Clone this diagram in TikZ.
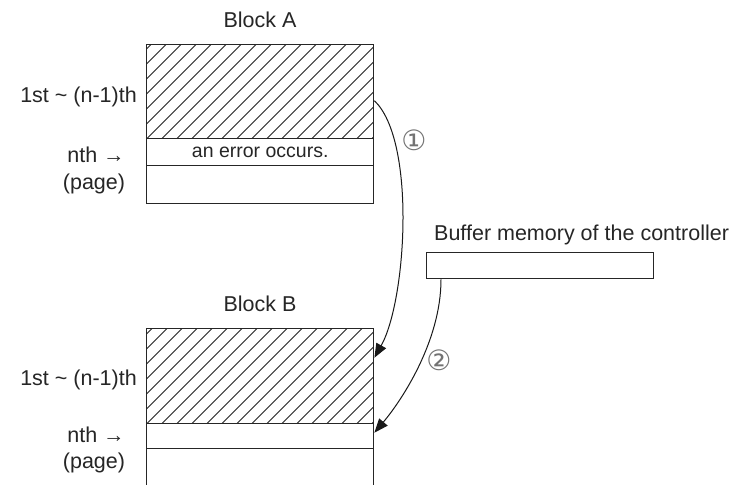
\documentclass[tikz,border=0pt]{standalone}
\usepackage{fontspec}
\setmainfont{Liberation Sans}
\newfontfamily\symfont{DejaVu Sans}
\usetikzlibrary{arrows.meta,calc}

\begin{document}
\begin{tikzpicture}[x=1pt,y=-1pt,
  cell/.style={draw=black!85,line width=1.4pt,minimum width=227pt,inner sep=0pt,anchor=north west},
  hatchline/.style={line width=0.9pt,black!85},
  hatched/.style={path picture={
      \foreach \k in {-8,...,16}{
        \draw[hatchline] ([xshift={\k*15pt}]path picture bounding box.south west) -- ++(130,-130);
      }}},
  lbl/.style={font=\fontsize{21.5}{27}\selectfont,text=black!85,inner sep=0pt},
  rowtext/.style={font=\fontsize{19.5}{24}\selectfont,text=black!85},
  flow/.style={line width=1pt,black!90,-{Triangle[length=14pt,width=11pt]}},
  stepno/.style={font=\symfont\fontsize{28}{28}\selectfont,text=black!55,inner sep=0pt}]

  \useasboundingbox[fill=white] (0,0) rectangle (729,485);

  % Block A: written pages, the failing page, remaining page
  \node[cell,hatched,minimum height=94pt] (hatchA) at (146,44) {};
  \node[cell,minimum height=27pt,rowtext] (errA) at (146,138) {an error occurs.};
  \node[cell,minimum height=38pt] (pageA) at (146,165) {};

  % Block B: copied pages, target page, open-ended remainder
  \node[cell,hatched,minimum height=95pt] (hatchB) at (146,328) {};
  \node[cell,minimum height=25pt] (nthB) at (146,423) {};
  \node[cell,minimum height=60pt] (pageB) at (146,448) {};

  % controller buffer
  \node[cell,minimum width=227pt,minimum height=26pt] (buf) at (426,252) {};

  % titles and row labels
  \node[lbl,anchor=base] (titleA) at (260,27) {Block A};
  \node[lbl,anchor=base] (titleB) at (260,311) {Block B};
  \node[lbl,anchor=base west] (bufcap) at (434,240) {Buffer memory of the controller};

  \node[lbl,anchor=base east] (rangeA) at (137,102) {1st \textasciitilde{} (n-1)th};
  \node[lbl,anchor=base] (nthA) at (96,162) {nth →};
  \node[lbl,anchor=base] (pgA) at (94,189) {(page)};

  \node[lbl,anchor=base east] (rangeB) at (137,385) {1st \textasciitilde{} (n-1)th};
  \node[lbl,anchor=base] (nthBl) at (96,442) {nth →};
  \node[lbl,anchor=base] (pgB) at (94,468) {(page)};

  % copy steps
  \coordinate (s1) at ([yshift=-9pt]hatchA.east);
  \coordinate (e1) at ([yshift=18.5pt]hatchB.east);
  \coordinate (s2) at ([xshift=15pt]buf.south west);
  \coordinate (e2) at ([yshift=3.5pt]nthB.east);

  \draw[flow] (s1) .. controls +(42,40) and +(32,-57) .. (e1);
  \draw[flow] (s2) .. controls +(0,62) and +(27,-32) .. (e2);

  \node[stepno] (n1) at (414,140) {①};
  \node[stepno] (n2) at (439,360) {②};
\end{tikzpicture}
\end{document}
